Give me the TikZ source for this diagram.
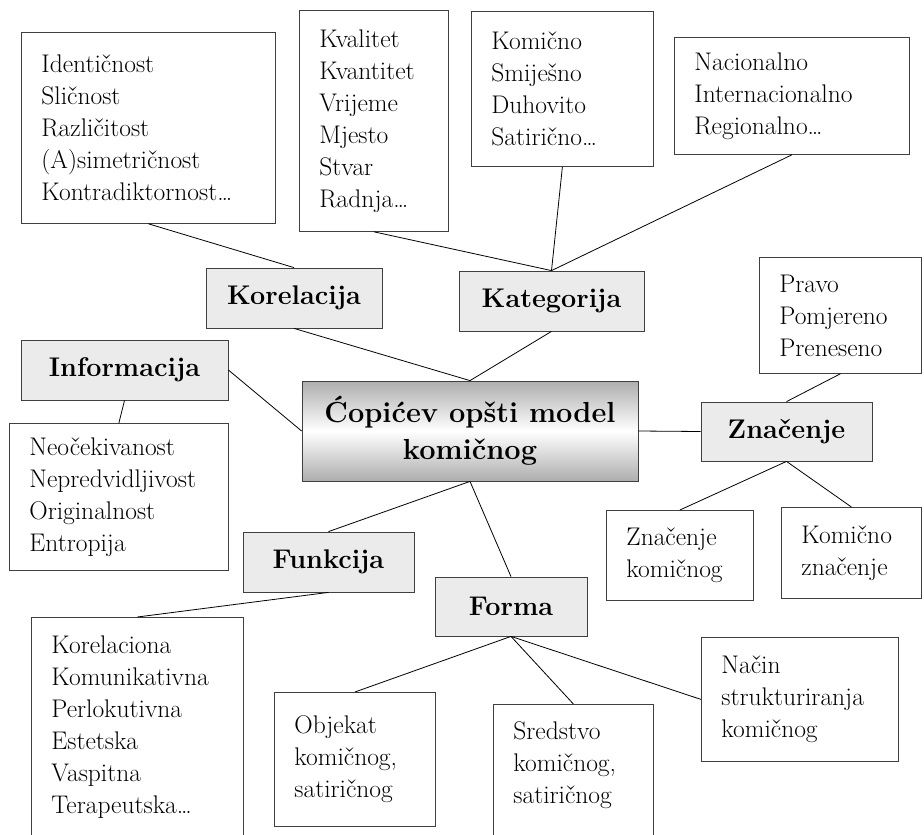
\documentclass[tikz,border=0pt]{standalone}
\usepackage{amsmath}
\usepackage{tikz}
\usetikzlibrary{shapes}

\tikzset{
	listbox/.style={draw=black!75, line width=0.8pt, anchor=north west, align=left, inner xsep=20pt, inner ysep=0pt, font=\fontsize{25.5}{32}\selectfont},
	labelbox/.style={draw=black!75, line width=0.8pt, fill=black!8, inner sep=0pt, font=\bfseries\fontsize{27}{32}\selectfont},
	link/.style={draw=black, line width=0.8pt}
}

\begin{document}
\begin{tikzpicture}[x=1pt, y=-1pt]
			\useasboundingbox (0,0) rectangle (924,835);
			\node[listbox, text width=214pt, minimum height=191pt] (IdentList) at (21,32) {Identičnost\\Sličnost\\Različitost\\(A)simetričnost\\Kontradiktornost\dots};
			\node[listbox, text width=109pt, minimum height=221pt] (KvalitetList) at (299,10) {Kvalitet\\Kvantitet\\Vrijeme\\Mjesto\\Stvar\\Radnja\dots};
			\node[listbox, text width=142pt, minimum height=155pt] (KomicnoList) at (471,11) {Komično\\Smiješno\\Duhovito\\Satirično\dots};
			\node[listbox, text width=195pt, minimum height=117pt] (NacionalnoList) at (674,37) {Nacionalno\\Internacionalno\\Regionalno\dots};
			\node[listbox, text width=122pt, minimum height=116pt] (PravoList) at (759,257) {Pravo\\Pomjereno\\Preneseno};
			\node[listbox, text width=179pt, minimum height=147pt] (InformacijaList) at (9,423) {Neočekivanost\\Nepredvidljivost\\Originalnost\\Entropija};
			\node[listbox, text width=107pt, minimum height=90pt] (ZnacenjeKomicnog) at (606,510) {Značenje\\komičnog};
			\node[listbox, text width=100pt, minimum height=91pt] (KomicnoZnacenje) at (781,507) {Komično\\značenje};
			\node[listbox, text width=172pt, minimum height=220pt] (FunkcijaList) at (31,617) {Korelaciona\\Komunikativna\\Perlokutivna\\Estetska\\Vaspitna\\Terapeutska\dots};
			\node[listbox, text width=121pt, minimum height=134pt] (Objekat) at (274,692) {Objekat\\komičnog,\\satiričnog};
			\node[listbox, text width=120pt, minimum height=156pt] (Sredstvo) at (493,704) {Sredstvo\\komičnog,\\satiričnog\rule[-40pt]{0pt}{0pt}};
			\node[listbox, text width=157pt, minimum height=124pt] (Nacin) at (701,637) {Način\\strukturiranja\\komičnog};

			\node[labelbox, minimum width=176pt, minimum height=60pt] (Korelacija) at (294,298) {Korelacija};
			\node[labelbox, minimum width=185pt, minimum height=60pt] (Kategorija) at (551.5,301) {Kategorija};
			\node[labelbox, minimum width=207pt, minimum height=60pt] (Informacija) at (124.5,370) {Informacija};
			\node[labelbox, minimum width=171pt, minimum height=59pt] (Znacenje) at (786.5,431.5) {Značenje};
			\node[labelbox, minimum width=171pt, minimum height=60pt] (Funkcija) at (328.5,562) {Funkcija};
			\node[labelbox, minimum width=152pt, minimum height=59pt] (Forma) at (511,606.5) {Forma};
			\node[labelbox, minimum width=336pt, minimum height=100pt, top color=black!32, bottom color=black!32, middle color=white, align=center, font=\bfseries\fontsize{29}{37}\selectfont] (Model) at (470,431) {Ćopićev opšti model\\komičnog};

			\draw[link] (Korelacija.north) -- (IdentList.south);
			\draw[link] (Korelacija.south) -- (Model.north);
			\draw[link] (Kategorija.north) -- (KvalitetList.south);
			\draw[link] (Kategorija.north) -- (KomicnoList.south);
			\draw[link] (Kategorija.north) -- (NacionalnoList.south);
			\draw[link] (Kategorija.south) -- (Model.north);
			\draw[link] (Informacija.east) -- (Model.west);
			\draw[link] (Informacija.south) -- (InformacijaList.north);
			\draw[link] (Model.east) -- (Znacenje.west);
			\draw[link] (Znacenje.north) -- (PravoList.south);
			\draw[link] (Znacenje.south) -- (ZnacenjeKomicnog.north);
			\draw[link] (Znacenje.south) -- (KomicnoZnacenje.north);
			\draw[link] (Model.south) -- (Funkcija.north);
			\draw[link] (Funkcija.south) -- (FunkcijaList.north);
			\draw[link] (Model.south) -- (Forma.north);
			\draw[link] (Forma.south) -- (Objekat.north);
			\draw[link] (Forma.south) -- (Sredstvo.north);
			\draw[link] (Forma.south) -- (Nacin.west);
		\end{tikzpicture}
\end{document}
